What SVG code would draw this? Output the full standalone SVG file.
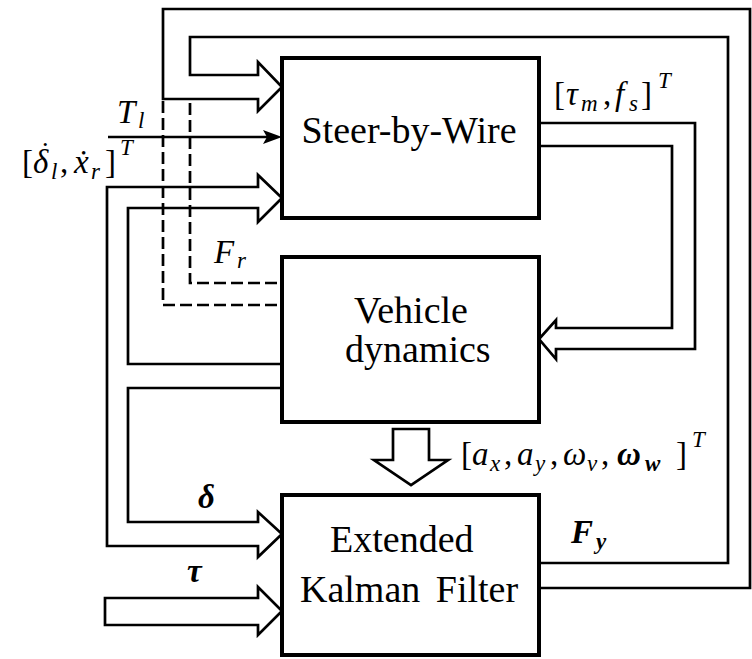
<svg xmlns="http://www.w3.org/2000/svg" width="752" height="659" viewBox="0 0 752 659" font-family="Liberation Serif">
<style>
.box{fill:#fff;stroke:#000;stroke-width:4}
.ln{fill:none;stroke:#000;stroke-width:2.7;stroke-linejoin:miter}
.hl{fill:#fff;stroke:#000;stroke-width:2.7;stroke-linejoin:miter}
.dash{fill:none;stroke:#000;stroke-width:2.7;stroke-dasharray:12 5}
text{font-family:"Liberation Serif",serif;fill:#000}
.t{font-size:38px}
.m{font-size:33px}
.i{font-style:italic}
.b{font-weight:bold}
.s{font-size:23px}
.dot{font-size:26px}
</style>
<rect width="752" height="659" fill="#fff"/>
<g id="connectors">
  <path class="ln" d="M539,563 H728 V37 H190 V75 H258 V62 L282,87 L258,111 V99 H163 V9 H750 V588 H539"/>
  <path class="dash" d="M163,101 V305 H282"/>
  <path class="dash" d="M190,103 V283 H282"/>
  <path class="ln" d="M108,137 H268"/>
  <polygon points="282,137 263,130 267,137 263,144" fill="#000"/>
  <path class="ln" d="M282,364 H128 V208 H258 V222 L282,198 L258,175 V187 H107 V546 H258 V557 L282,534 L258,512 V522 H128 V388 H282"/>
  <path class="ln" d="M105,598 H258 V587 L282,611 L258,635 V625 H105 Z"/>
  <path class="ln" d="M539,123 H695 V349 H556 V359 L539,339 L556,320 V328 H672 V146 H539"/>
  <polygon class="hl" points="393,429 429,429 429,460 448,460 411,485 374,460 393,460"/>
</g>
<g id="steer-by-wire">
  <rect class="box" x="282" y="58" width="257" height="160"/>
  <text class="t" x="409" y="143" text-anchor="middle">Steer-by-Wire</text>
</g>
<g id="vehicle-dynamics">
  <rect class="box" x="282" y="257" width="257" height="165"/>
  <text class="t" x="354" y="323">Vehicle</text>
  <text class="t" x="345" y="362">dynamics</text>
</g>
<g id="ekf">
  <rect class="box" x="282" y="495" width="257" height="160"/>
  <text class="t" x="330" y="552">Extended</text>
  <text class="t" x="300" y="602" word-spacing="6">Kalman Filter</text>
</g>
<g id="labels">
  <text class="m i" x="117" y="123">T</text>
  <text class="m i s" x="138" y="128">l</text>

  <text class="m" x="22" y="173">[</text>
  <text class="m i" x="33" y="173">δ</text>
  <text class="dot" x="42" y="146">.</text>
  <text class="m i s" x="51" y="179">l</text>
  <text class="m" x="60" y="173">,</text>
  <text class="m i" x="74" y="173">ẋ</text>
  <text class="m i s" x="91" y="179">r</text>
  <text class="m" x="105" y="173">]</text>
  <text class="m i s" x="120" y="155">T</text>

  <text class="m i" x="214" y="263">F</text>
  <text class="m i s" x="237" y="268">r</text>

  <text class="m" x="554" y="105">[</text>
  <text class="m i" x="566" y="105">τ</text>
  <text class="m i s" x="581" y="111">m</text>
  <text class="m" x="603" y="105">,</text>
  <text class="m i" x="615" y="105">f</text>
  <text class="m i s" x="629" y="111">s</text>
  <text class="m" x="641" y="105">]</text>
  <text class="m i s" x="658" y="88">T</text>

  <text class="m" x="461" y="465">[</text>
  <text class="m i" x="472" y="465">a</text>
  <text class="m i s" x="490" y="471">x</text>
  <text class="m" x="504" y="465">,</text>
  <text class="m i" x="517" y="465">a</text>
  <text class="m i s" x="535" y="471">y</text>
  <text class="m" x="550" y="465">,</text>
  <text class="m i" x="563" y="465">ω</text>
  <text class="m i s" x="587" y="471">v</text>
  <text class="m" x="601" y="465">,</text>
  <text class="m i b" x="617" y="465">ω</text>
  <text class="m i b s" x="645" y="471">w</text>
  <text class="m" x="676" y="465">]</text>
  <text class="m i s" x="692" y="447">T</text>

  <text class="m i b" x="198" y="508">δ</text>
  <text class="m i b" x="187" y="582">τ</text>

  <text class="m i b" x="571" y="543">F</text>
  <text class="m i b s" x="596" y="549">y</text>
</g>
</svg>
